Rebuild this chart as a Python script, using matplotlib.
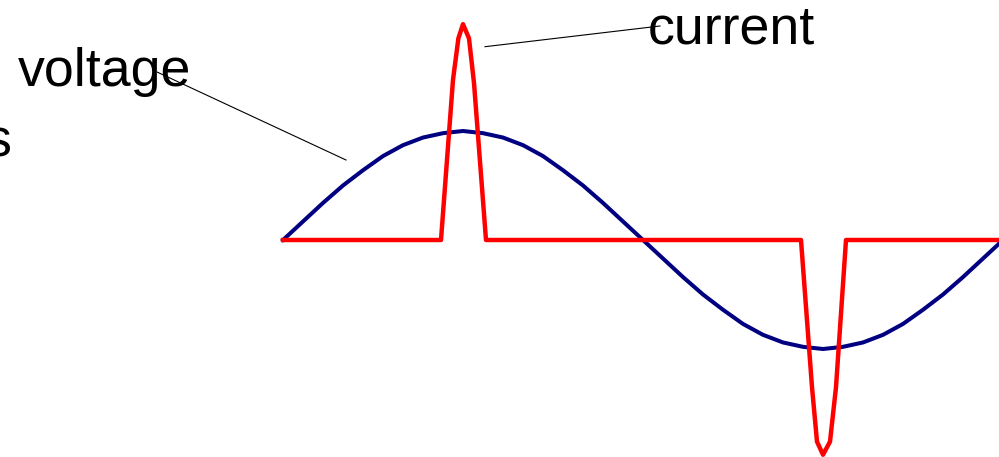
import matplotlib
matplotlib.use("Agg")
import matplotlib.pyplot as plt

plt.rcParams['font.family'] = ['Liberation Sans', 'DejaVu Sans']

# phase angle in degrees, voltage read every 10 degrees
v_deg = [0, 10, 20, 30, 40, 50, 60, 70, 80, 90, 100, 110, 120, 130, 140, 150, 160, 170, 180,
         190, 200, 210, 220, 230, 240, 250, 260, 270, 280, 290, 300, 310, 320, 330, 340, 350, 360]
voltage = [0, 0.17, 0.34, 0.50, 0.64, 0.77, 0.87, 0.94, 0.98, 1.0, 0.98, 0.94, 0.87, 0.77, 0.64, 0.50, 0.34, 0.17, 0,
           -0.17, -0.34, -0.50, -0.64, -0.77, -0.87, -0.94, -0.98, -1.0, -0.98, -0.94, -0.87, -0.77, -0.64, -0.50,
           -0.34, -0.17, 0]

# current pulses near the voltage peaks
i_deg = [0, 79, 85, 87.7, 90, 93, 95.5, 101.5, 259, 264.5, 267, 270, 273.5, 276.5, 281.5, 360]
current = [0, 0, 1.47, 1.85, 1.98, 1.85, 1.44, 0, 0, -1.35, -1.85, -1.97, -1.85, -1.35, 0, 0]

W, H = 999, 457
fig = plt.figure(figsize=(W / 100, H / 100), dpi=100)
ax = fig.add_axes([0, 0, 1, 1])
ax.axis('off')

# 2 px per degree, zero at x=283 px; 109 px per unit, zero at y=240 px
ax.set_xlim(-283 / 2, (W - 283) / 2)
ax.set_ylim(-(H - 240) / 109, 240 / 109)

ax.plot(v_deg, voltage, color='#000080', lw=2.9)
ax.plot(i_deg, current, color='#ff0000', lw=3.2)


def fx(px):
    return px / W


def fy(py):
    return 1 - py / H


fig.text(fx(18), fy(86), 'voltage', fontsize=38.7, va='baseline', ha='left')
fig.text(fx(648), fy(43), 'current', fontsize=38.7, va='baseline', ha='left')
fig.text(fx(11), fy(157), 's', fontsize=38.7, va='baseline', ha='right')

fig.add_artist(plt.Line2D([fx(157), fx(346)], [fy(72), fy(160)], color='black', lw=0.8))
fig.add_artist(plt.Line2D([fx(485), fx(660)], [fy(46.7), fy(26)], color='black', lw=0.8))

fig.savefig('out.png', dpi=100)
